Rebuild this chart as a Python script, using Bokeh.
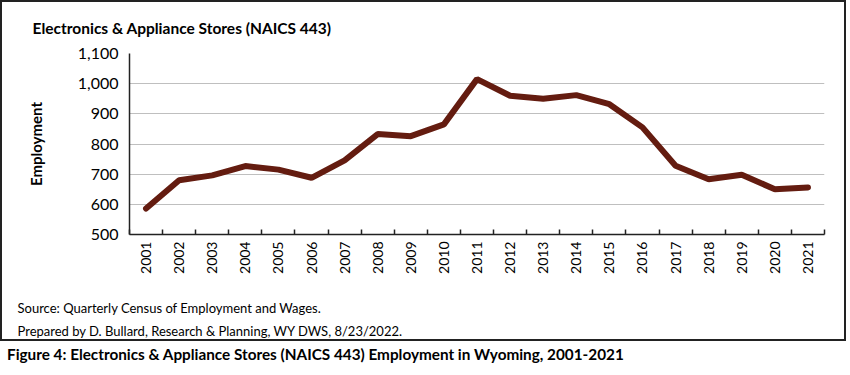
import math
from bokeh.plotting import figure
from bokeh.layouts import column
from bokeh.models import Title, Div, FixedTicker, NumeralTickFormatter, Range1d
from bokeh.embed import file_html
from bokeh.resources import INLINE

years = list(range(2001, 2022))
employment = [586, 680, 696, 727, 715, 688, 746, 833, 826, 865, 1015,
              960, 950, 962, 932, 855, 728, 683, 698, 650, 656]
y_ticks = [500, 600, 700, 800, 900, 1000, 1100]

chart_title = "Electronics & Appliance Stores (NAICS 443)"
y_title = "Employment"
source_1 = "Source: Quarterly Census of Employment and Wages."
source_2 = "Prepared by D. Bullard, Research & Planning, WY DWS, 8/23/2022."
caption = "Figure 4: Electronics & Appliance Stores (NAICS 443) Employment in Wyoming, 2001-2021"

FONT = "Lato"
PW, PH = 846, 341   # figure canvas (inside a 2px css border)

p = figure(width=PW, height=PH, output_backend="svg", toolbar_location=None,
           x_range=Range1d(years[0] - 0.5, years[-1] + 0.5),
           y_range=Range1d(y_ticks[0], y_ticks[-1]),
           min_border_left=127, min_border_right=24,
           min_border_top=51, min_border_bottom=109)
p.styles = {"border": "2px solid #222222"}
p.outline_line_color = None
p.background_fill_color = "white"
p.border_fill_color = "white"

p.title.text = chart_title
p.title.align = "left"
p.title.vertical_align = "top"
p.title.offset = -97
p.title.standoff = 30
p.title.text_font = FONT
p.title.text_font_style = "bold"
p.title.text_font_size = "15.5px"
p.title.text_color = "black"

p.line(years, employment, line_color="#641c10", line_width=6, line_cap="round")

# y axis
p.yaxis.ticker = FixedTicker(ticks=y_ticks)
p.yaxis.formatter = NumeralTickFormatter(format="0,0")
p.yaxis.major_tick_out = 0
p.yaxis.major_tick_in = 0
p.yaxis.minor_tick_out = 0
p.yaxis.minor_tick_in = 0
p.yaxis.axis_line_color = "#222222"
p.yaxis.axis_line_width = 1.5
p.yaxis.major_label_text_font = FONT
p.yaxis.major_label_text_font_size = "16px"
p.yaxis.major_label_text_color = "black"
p.yaxis.major_label_standoff = 11
p.yaxis.axis_label = y_title
p.yaxis.axis_label_standoff = 30
p.yaxis.axis_label_text_font = FONT
p.yaxis.axis_label_text_font_style = "bold"
p.yaxis.axis_label_text_font_size = "15px"
p.yaxis.axis_label_text_color = "black"

# x axis
bounds = [y - 0.5 for y in years] + [years[-1] + 0.5]
p.xaxis.ticker = FixedTicker(ticks=years, minor_ticks=bounds)
p.xaxis.major_tick_out = 0
p.xaxis.major_tick_in = 0
p.xaxis.minor_tick_out = 0
p.xaxis.minor_tick_in = 5
p.xaxis.minor_tick_line_color = "#222222"
p.xaxis.minor_tick_line_width = 1.5
p.xaxis.axis_line_color = "#222222"
p.xaxis.axis_line_width = 1.5
p.xaxis.major_label_orientation = math.pi / 2
p.xaxis.major_label_text_font = FONT
p.xaxis.major_label_text_font_size = "14px"
p.xaxis.major_label_text_color = "black"
p.xaxis.major_label_standoff = 7

p.xgrid.grid_line_color = None
p.ygrid.ticker = FixedTicker(ticks=y_ticks)
p.ygrid.grid_line_color = "#BFBFBF"
p.ygrid.grid_line_width = 1

p.add_layout(Title(text="\n" + source_1 + "\n" + source_2, align="left", offset=-112,
                   vertical_align="top", standoff=0, text_line_height=1.45,
                   text_font=FONT, text_font_style="normal", text_font_size="13px",
                   text_color="black"), "below")

cap = Div(text=caption, width=850, height=30,
          styles={"font-family": FONT, "font-weight": "bold", "font-size": "15.3px",
                  "color": "black", "padding-left": "7px", "padding-top": "4px",
                  "line-height": "18px", "margin": "0"})

layout = column(p, cap, spacing=0)
open("out.html", "w").write(file_html(layout, INLINE))
